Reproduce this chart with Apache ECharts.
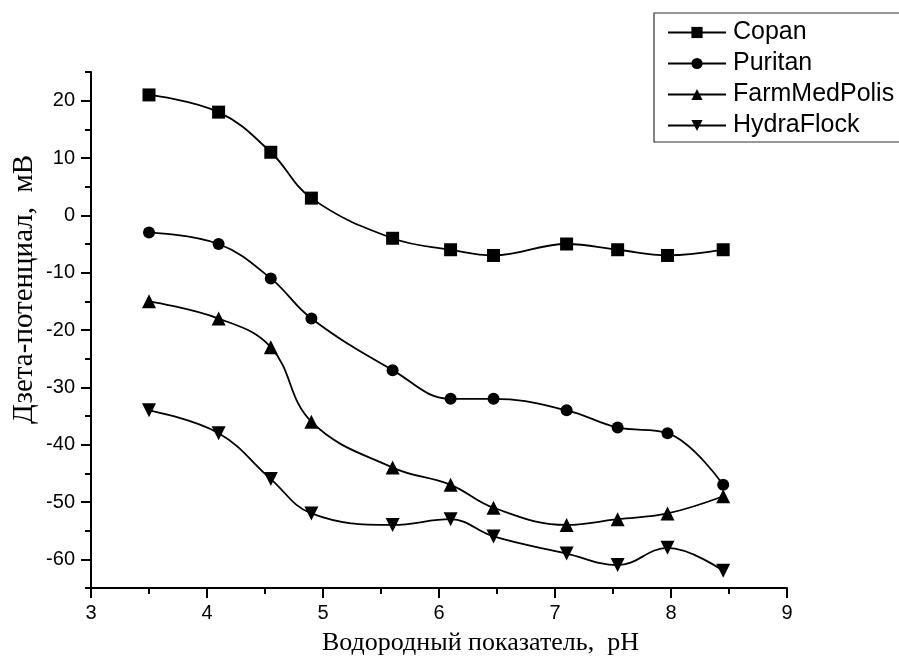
<!DOCTYPE html>
<html>
<head>
<meta charset="utf-8">
<script src="https://cdn.jsdelivr.net/npm/echarts@6/dist/echarts.min.js"></script>
<style>
html,body{margin:0;padding:0;background:#fff;}
#chart{width:899px;height:662px;}
</style>
</head>
<body>
<div id="chart"></div>
<script>
const phValues = [3.5, 4.1, 4.55, 4.9, 5.6, 6.1, 6.47, 7.1, 7.54, 7.97, 8.45];
const copan = [21, 18, 11, 3, -4, -6, -7, -5, -6, -7, -6];
const puritan = [-3, -5, -11, -18, -27, -32, -32, -34, -37, -38, -47];
const farmMedPolis = [-15, -18, -23, -36, -44, -47, -51, -54, -53, -52, -49];
const hydraFlock = [-34, -38, -46, -52, -54, -53, -56, -59, -61, -58, -62];
const seriesNames = ['Copan', 'Puritan', 'FarmMedPolis', 'HydraFlock'];
const yMajorTicks = [-60, -50, -40, -30, -20, -10, 0, 10, 20];
const xTitle = 'Водородный показатель,  pH';
const yTitle = 'Дзета-потенциал,  мВ';

const seriesValues = [copan, puritan, farmMedPolis, hydraFlock];
const symbols = ['rect', 'circle', 'triangle', 'path://M0,0 L10,0 L5,10 Z'];
const symbolSizes = [13, 12, 14, 14];

const chart = echarts.init(document.getElementById('chart'), null, {renderer: 'canvas'});

const series = seriesNames.map((name, i) => ({
  name: name,
  type: 'line',
  data: phValues.map((x, j) => [x, seriesValues[i][j]]),
  smooth: 0.4,
  symbol: symbols[i],
  symbolSize: symbolSizes[i],
  showAllSymbol: true,
  itemStyle: {color: '#000'},
  lineStyle: {color: '#000', width: 1.8},
  emphasis: {disabled: true},
  xAxisIndex: 0,
  yAxisIndex: 0
}));

const option = {
  backgroundColor: '#fff',
  animation: false,
  grid: {left: 91, right: 112, top: 72, bottom: 74, containLabel: false},
  legend: {
    data: seriesNames,
    orient: 'vertical',
    left: 654,
    top: 13,
    padding: [7, 30, 4, 13],
    borderColor: '#333',
    borderWidth: 1.2,
    itemWidth: 58,
    itemHeight: 14,
    itemGap: 6,
    textStyle: {fontFamily: 'Liberation Sans', fontSize: 25, color: '#000', lineHeight: 25, padding: [0, 0, 0, 2]},
    selectedMode: false
  },
  xAxis: [{
    type: 'value',
    min: 3,
    max: 9,
    interval: 1,
    axisLine: {show: true, onZero: false, lineStyle: {color: '#000', width: 2}},
    axisTick: {show: true, length: 10, lineStyle: {color: '#000', width: 2}},
    minorTick: {show: true, splitNumber: 2, length: 6, lineStyle: {color: '#000', width: 2}},
    axisLabel: {fontFamily: 'Liberation Sans', fontSize: 20, color: '#000', margin: 15},
    splitLine: {show: false}
  }],
  yAxis: [{
    type: 'value',
    min: -65,
    max: 25,
    axisLine: {show: true, onZero: false, lineStyle: {color: '#000', width: 2}},
    axisTick: {show: true, length: 10, customValues: yMajorTicks, lineStyle: {color: '#000', width: 2}},
    axisLabel: {fontFamily: 'Liberation Sans', fontSize: 20, color: '#000', margin: 16, customValues: yMajorTicks},
    splitLine: {show: false}
  }, {
    type: 'value',
    position: 'left',
    min: -65,
    max: 25,
    interval: 10,
    axisLine: {show: false},
    axisTick: {show: true, length: 6, lineStyle: {color: '#000', width: 2}},
    axisLabel: {show: false},
    splitLine: {show: false}
  }],
  graphic: [{
    type: 'text',
    left: 322,
    top: 630,
    style: {text: xTitle, fontFamily: 'Liberation Serif', fontSize: 26, fill: '#000'}
  }, {
    type: 'text',
    x: 10,
    y: 424,
    rotation: Math.PI / 2,
    style: {text: yTitle, fontFamily: 'Liberation Serif', fontSize: 29, fill: '#000'}
  }],
  series: series
};
chart.setOption(option);
</script>
</body>
</html>
